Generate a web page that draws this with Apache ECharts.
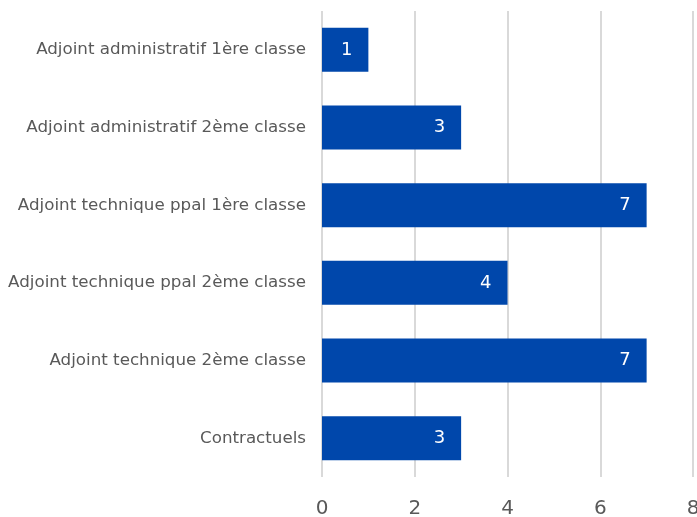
<!DOCTYPE html>
<html>
<head>
<meta charset="utf-8">
<script src="https://cdn.jsdelivr.net/npm/echarts@6/dist/echarts.min.js"></script>
<style>
html, body { margin: 0; padding: 0; background: #fff; }
#main { width: 697px; height: 517px; }
</style>
</head>
<body>
<div id="main"></div>
<script>
// categories listed bottom to top (category axis runs upward)
var categories = [
    'Contractuels',
    'Adjoint technique 2ème classe',
    'Adjoint technique ppal 2ème classe',
    'Adjoint technique ppal 1ère classe',
    'Adjoint administratif 2ème classe',
    'Adjoint administratif 1ère classe'
];
var values = [3, 7, 4, 7, 3, 1];
var xTicks = [0, 2, 4, 6, 8];

var myChart = echarts.init(document.getElementById('main'));
var option = {
    animation: false,
    grid: {
        left: 322,
        right: 4,
        top: 11,
        bottom: 40,
        containLabel: false,
        outerBoundsMode: 'none'
    },
    xAxis: {
        type: 'value',
        min: xTicks[0],
        max: xTicks[xTicks.length - 1],
        interval: 2,
        axisLine: { show: false },
        axisTick: { show: false },
        splitLine: { lineStyle: { color: '#d9d9d9', width: 2 } },
        axisLabel: {
            color: '#595959',
            fontSize: 20,
            fontFamily: 'DejaVu Sans',
            margin: 22
        }
    },
    yAxis: {
        type: 'category',
        data: categories,
        axisLine: { show: false },
        axisTick: { show: false },
        axisLabel: {
            color: '#595959',
            fontSize: 16.7,
            fontFamily: 'DejaVu Sans',
            margin: 16
        }
    },
    series: [{
        type: 'bar',
        data: values,
        barWidth: 44,
        itemStyle: { color: '#0047ab' },
        label: {
            show: true,
            position: 'insideRight',
            color: '#fff',
            fontSize: 18,
            fontFamily: 'DejaVu Sans',
            distance: 16
        }
    }]
};
myChart.setOption(option);
</script>
</body>
</html>
